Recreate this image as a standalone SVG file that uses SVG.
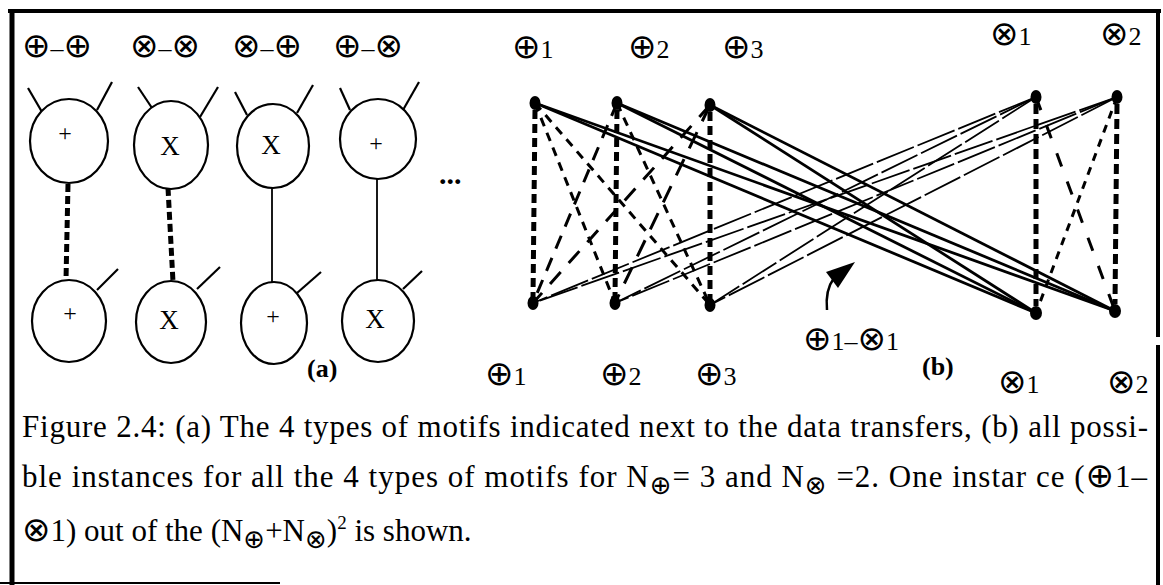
<svg xmlns="http://www.w3.org/2000/svg" width="1163" height="585" viewBox="0 0 1163 585">
<style>
text{font-family:"Liberation Serif","DejaVu Serif",serif;fill:#000}
.sym{font-family:"DejaVu Sans",sans-serif;font-weight:normal}
.lbl{font-size:26px}
.cap{font-size:31px}
.bold{font-weight:bold;font-size:26px}
.op{font-size:24px}
.opx{font-size:27px}
.circ{fill:#fff;stroke:#000;stroke-width:2.2}
.stub{stroke:#000;stroke-width:2.2;fill:none}
.thickdash{stroke:#000;stroke-width:5;stroke-dasharray:8 4;fill:none}
.thin{stroke:#000;stroke-width:1.8;fill:none}
.pp{stroke:#000;stroke-width:3;stroke-dasharray:9 7;fill:none}
.ppv{stroke:#000;stroke-width:5;stroke-dasharray:9 5;fill:none}
.xxv{stroke:#000;stroke-width:5;stroke-dasharray:10 5;fill:none}
.xx{stroke:#000;stroke-width:3;stroke-dasharray:12 10;fill:none}
.px{stroke:#000;stroke-width:2.8;fill:none}
.xp{stroke:#000;stroke-width:1.8;stroke-dasharray:40 4;fill:none}
.dot{fill:#000}
</style>
<rect width="1163" height="585" fill="#fff"/>
<g id="frame" fill="none" stroke="#000">
<line x1="8" y1="11" x2="1161" y2="11" stroke-width="4"/>
<line x1="12" y1="9" x2="12" y2="585" stroke-width="5"/>
<line x1="1158" y1="9" x2="1158" y2="337" stroke-width="4"/>
<line x1="1158" y1="345" x2="1158" y2="585" stroke-width="4"/>
<line x1="0" y1="583" x2="280" y2="583" stroke-width="2"/>
</g>

<!-- Part (a) -->
<g id="a-labels">
<text class="lbl" x="22" y="57"><tspan class="sym" style="font-size:34px">⊕</tspan>–<tspan class="sym" style="font-size:34px">⊕</tspan></text>
<text class="lbl" x="130" y="57"><tspan class="sym" style="font-size:34px">⊗</tspan>–<tspan class="sym" style="font-size:34px">⊗</tspan></text>
<text class="lbl" x="232" y="57"><tspan class="sym" style="font-size:34px">⊗</tspan>–<tspan class="sym" style="font-size:34px">⊕</tspan></text>
<text class="lbl" x="333" y="57"><tspan class="sym" style="font-size:34px">⊕</tspan>–<tspan class="sym" style="font-size:34px">⊗</tspan></text>
</g>
<g id="a-connectors">
<line class="thickdash" x1="68" y1="184" x2="66" y2="280"/>
<line class="thickdash" x1="168" y1="188" x2="173" y2="282"/>
<line class="thin" x1="272" y1="187" x2="272" y2="283"/>
<line class="thin" x1="377" y1="178" x2="377" y2="280" stroke-width="2.4"/>
</g>
<g id="a-top1">
<line class="stub" x1="28" y1="88" x2="42" y2="112"/>
<line class="stub" x1="112" y1="82" x2="97" y2="110"/>
<ellipse class="circ" cx="69" cy="141" rx="39" ry="42"/>
<text class="op" x="65" y="141" text-anchor="middle">+</text>
</g>
<g id="a-top2">
<line class="stub" x1="138" y1="87" x2="152" y2="108"/>
<line class="stub" x1="218" y1="87" x2="200" y2="117"/>
<ellipse class="circ" cx="171" cy="145" rx="37" ry="44"/>
<text class="opx" x="170" y="155" text-anchor="middle">X</text>
</g>
<g id="a-top3">
<line class="stub" x1="235" y1="92" x2="247" y2="115"/>
<line class="stub" x1="313" y1="85" x2="297" y2="113"/>
<ellipse class="circ" cx="273" cy="146" rx="36" ry="42"/>
<text class="opx" x="271" y="154" text-anchor="middle">X</text>
</g>
<g id="a-top4">
<line class="stub" x1="340" y1="88" x2="350" y2="110"/>
<line class="stub" x1="419" y1="82" x2="403" y2="110"/>
<ellipse class="circ" cx="378" cy="139" rx="38" ry="40"/>
<text class="op" x="376" y="151" text-anchor="middle">+</text>
</g>
<g id="a-bot1">
<line class="stub" x1="97" y1="290" x2="118" y2="269"/>
<ellipse class="circ" cx="69" cy="321" rx="37" ry="41"/>
<text class="op" x="70" y="321" text-anchor="middle">+</text>
</g>
<g id="a-bot2">
<line class="stub" x1="197" y1="289" x2="220" y2="267"/>
<ellipse class="circ" cx="171" cy="322" rx="35" ry="41"/>
<text class="opx" x="169" y="329" text-anchor="middle">X</text>
</g>
<g id="a-bot3">
<line class="stub" x1="297" y1="293" x2="321" y2="272"/>
<ellipse class="circ" cx="274" cy="323" rx="33" ry="41"/>
<text class="op" x="273" y="324" text-anchor="middle">+</text>
</g>
<g id="a-bot4">
<line class="stub" x1="403" y1="289" x2="422" y2="271"/>
<ellipse class="circ" cx="378" cy="321" rx="36" ry="41"/>
<text class="opx" x="375" y="328" text-anchor="middle">X</text>
</g>
<text class="bold" x="307" y="377">(a)</text>
<text x="439" y="184" style="font-size:30px;font-weight:bold">...</text>

<!-- Part (b) -->
<g id="b-connectors">
<line class="ppv" x1="535" y1="110" x2="533" y2="298"/>
<line class="ppv" x1="617" y1="110" x2="615" y2="298"/>
<line class="ppv" x1="710" y1="112" x2="710" y2="300"/>
<line class="pp" x1="535" y1="103" x2="615" y2="303"/>
<line class="pp" x1="535" y1="103" x2="710" y2="305"/>
<line class="pp" x1="617" y1="103" x2="533" y2="303" style="stroke-dasharray:14 10"/>
<line class="pp" x1="617" y1="103" x2="710" y2="305"/>
<line class="pp" x1="710" y1="105" x2="533" y2="303" style="stroke-dasharray:16 12"/>
<line class="pp" x1="710" y1="105" x2="615" y2="303" style="stroke-dasharray:18 12"/>
<line class="xxv" x1="1036" y1="104" x2="1036" y2="306"/>
<line class="xxv" x1="1117" y1="104" x2="1115" y2="304"/>
<line class="xx" x1="1036" y1="97" x2="1115" y2="311" style="stroke-dasharray:14 16"/>
<line class="xx" x1="1117" y1="97" x2="1036" y2="313" style="stroke-dasharray:8 7"/>
<line class="px" x1="535" y1="103" x2="1036" y2="313"/>
<line class="px" x1="535" y1="103" x2="1115" y2="311"/>
<line class="px" x1="617" y1="103" x2="1036" y2="313"/>
<line class="px" x1="617" y1="103" x2="1115" y2="311"/>
<line class="px" x1="710" y1="105" x2="1036" y2="313"/>
<line class="px" x1="710" y1="105" x2="1115" y2="311"/>
<line class="xp" x1="1036" y1="97" x2="533" y2="303"/>
<line class="xp" x1="1036" y1="97" x2="615" y2="303"/>
<line class="xp" x1="1036" y1="97" x2="710" y2="305"/>
<line class="xp" x1="1117" y1="97" x2="533" y2="303"/>
<line class="xp" x1="1117" y1="97" x2="615" y2="303"/>
<line class="xp" x1="1117" y1="97" x2="710" y2="305"/>
</g>
<g id="b-P1-top"><ellipse class="dot" cx="535" cy="103" rx="5.5" ry="7"/></g>
<g id="b-P2-top"><ellipse class="dot" cx="617" cy="103" rx="5.5" ry="7"/></g>
<g id="b-P3-top"><ellipse class="dot" cx="710" cy="105" rx="5.5" ry="7"/></g>
<g id="b-X1-top"><ellipse class="dot" cx="1036" cy="97" rx="5.5" ry="7"/></g>
<g id="b-X2-top"><ellipse class="dot" cx="1117" cy="97" rx="5.5" ry="7"/></g>
<g id="b-P1-bot"><ellipse class="dot" cx="533" cy="303" rx="5.5" ry="7"/></g>
<g id="b-P2-bot"><ellipse class="dot" cx="615" cy="303" rx="5.5" ry="7"/></g>
<g id="b-P3-bot"><ellipse class="dot" cx="710" cy="305" rx="5.5" ry="7"/></g>
<g id="b-X1-bot"><ellipse class="dot" cx="1036" cy="313" rx="6" ry="7"/></g>
<g id="b-X2-bot"><ellipse class="dot" cx="1115" cy="311" rx="6" ry="7"/></g>
<g id="b-labels">
<text class="lbl" x="512" y="58"><tspan class="sym" style="font-size:34px">⊕</tspan>1</text>
<text class="lbl" x="628" y="58"><tspan class="sym" style="font-size:34px">⊕</tspan>2</text>
<text class="lbl" x="722" y="58"><tspan class="sym" style="font-size:34px">⊕</tspan>3</text>
<text class="lbl" x="990" y="45"><tspan class="sym" style="font-size:34px">⊗</tspan>1</text>
<text class="lbl" x="1100" y="45"><tspan class="sym" style="font-size:34px">⊗</tspan>2</text>
<text class="lbl" x="485" y="385"><tspan class="sym" style="font-size:34px">⊕</tspan>1</text>
<text class="lbl" x="600" y="385"><tspan class="sym" style="font-size:34px">⊕</tspan>2</text>
<text class="lbl" x="695" y="385"><tspan class="sym" style="font-size:34px">⊕</tspan>3</text>
<text class="lbl" x="998" y="393"><tspan class="sym" style="font-size:34px">⊗</tspan>1</text>
<text class="lbl" x="1107" y="393"><tspan class="sym" style="font-size:34px">⊗</tspan>2</text>
<text class="lbl" x="803" y="350"><tspan class="sym" style="font-size:34px">⊕</tspan>1–<tspan class="sym" style="font-size:34px">⊗</tspan>1</text>
<text class="bold" x="922" y="375">(b)</text>
</g>
<g id="b-arrow">
<path d="M827 310 Q825 290 834 278" stroke="#000" stroke-width="2.5" fill="none"/>
<polygon points="855,262 826,272 838,288" fill="#000"/>
</g>

<!-- Caption -->
<g id="caption">
<text class="cap" x="22" y="437" textLength="1126" lengthAdjust="spacing">Figure 2.4:  (a) The 4 types of motifs indicated next to the data transfers, (b) all possi-</text>
<text class="cap" x="22" y="487" textLength="1125" lengthAdjust="spacing">ble instances for all the 4 types of motifs for N<tspan class="sym" style="font-size:26px" dy="7">⊕</tspan><tspan dy="-7">= 3 and N</tspan><tspan class="sym" style="font-size:26px" dy="7">⊗</tspan><tspan dy="-7"> =2. One instar ce (</tspan><tspan class="sym" style="font-size:34px">⊕</tspan>1–</text>
<text class="cap" x="22" y="541"><tspan class="sym" style="font-size:34px">⊗</tspan>1) out of the (N<tspan class="sym" style="font-size:26px" dy="7">⊕</tspan><tspan dy="-7">+N</tspan><tspan class="sym" style="font-size:26px" dy="7">⊗</tspan><tspan dy="-7">)</tspan><tspan style="font-size:19px" dy="-12">2</tspan><tspan dy="12"> is shown.</tspan></text>
</g>
</svg>
